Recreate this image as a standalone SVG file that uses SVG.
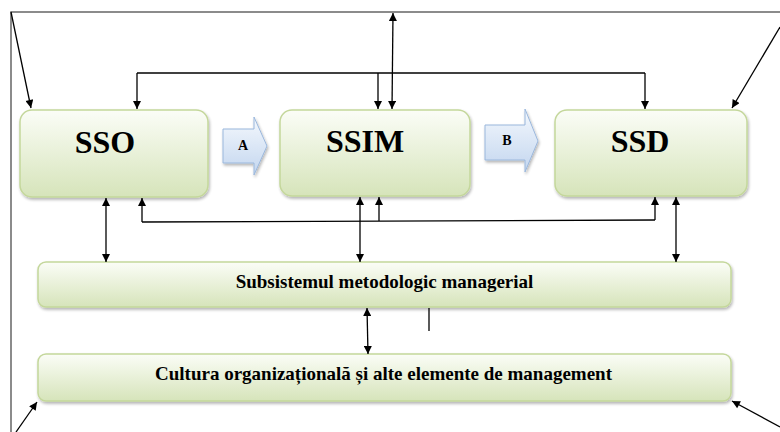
<svg xmlns="http://www.w3.org/2000/svg" width="780" height="432" viewBox="0 0 780 432">
<defs>
<linearGradient id="gGreen" x1="0" y1="0" x2="0" y2="1">
<stop offset="0" stop-color="#fbfdf7"/>
<stop offset="1" stop-color="#d6e4ba"/>
</linearGradient>
<linearGradient id="gBlue" x1="0" y1="0" x2="0" y2="1">
<stop offset="0" stop-color="#f4f8fd"/>
<stop offset="1" stop-color="#c3d6ef"/>
</linearGradient>
<filter id="sh" x="-10%" y="-10%" width="120%" height="130%">
<feGaussianBlur in="SourceAlpha" stdDeviation="1.5"/>
<feOffset dx="1" dy="2" result="b"/>
<feComponentTransfer><feFuncA type="linear" slope="0.3"/></feComponentTransfer>
<feMerge><feMergeNode/><feMergeNode in="SourceGraphic"/></feMerge>
</filter>
<marker id="ah" viewBox="0 0 10 10" refX="10" refY="5" markerWidth="9" markerHeight="8" markerUnits="userSpaceOnUse" orient="auto-start-reverse">
<path d="M0,0 L10,5 L0,10 Z" fill="#000"/>
</marker>
</defs>
<style>
.box{fill:url(#gGreen);stroke:#c4d79b;stroke-width:1.5;filter:url(#sh)}
.barr{fill:url(#gBlue);stroke:#9ab7dc;stroke-width:1;filter:url(#sh)}
text{font-family:'Liberation Serif','DejaVu Serif',serif;font-weight:bold;fill:#000;text-anchor:middle}
.big{font-size:32px}
.mid{font-size:19px}
.sm{font-size:14px}
.ln{stroke:#000;stroke-width:1.3;fill:none}
.gr{stroke:#666;stroke-width:1.5;fill:none}
.a1{marker-end:url(#ah)}
.a2{marker-start:url(#ah);marker-end:url(#ah)}
</style>
<rect width="780" height="432" fill="#fff"/>
<g id="SSO">
<rect class="box" x="20" y="110" width="188" height="87" rx="12"/>
<text class="big" x="105" y="153" font-family="Liberation Serif, serif">SSO</text>
</g>
<g id="SSIM">
<rect class="box" x="280" y="110" width="190" height="86" rx="12"/>
<text class="big" x="365" y="152" font-family="Liberation Serif, serif">SSIM</text>
</g>
<g id="SSD">
<rect class="box" x="555" y="110" width="192" height="86" rx="12"/>
<text class="big" x="640" y="152" font-family="Liberation Serif, serif">SSD</text>
</g>
<g id="A">
<path class="barr" d="M223,129 H254 V117 L267,146 L254,175 V163 H223 Z"/>
<text class="sm" x="243" y="150" font-family="Liberation Serif, serif">A</text>
</g>
<g id="B">
<path class="barr" d="M485,125 H525 V109 L538,141 L525,172 V160 H485 Z"/>
<text class="sm" x="507" y="145" font-family="Liberation Serif, serif">B</text>
</g>
<g id="Subsistemul">
<rect class="box" x="38" y="262" width="693" height="45" rx="8"/>
<text class="mid" x="384.5" y="288" font-family="Liberation Serif, serif">Subsistemul metodologic managerial</text>
</g>
<g id="Cultura">
<rect class="box" x="38" y="354" width="693" height="47" rx="8"/>
<text class="mid" x="383.5" y="380" font-family="Liberation Serif, serif">Cultura organizațională și alte elemente de management</text>
</g>
<g id="connectors">
<path class="gr" d="M11,432 V12 H780"/>
<path class="ln a1" d="M11,12 L31,108"/>
<path class="ln a1" d="M780,27 L732,108"/>
<path class="ln a1" d="M16,432 L37,402"/>
<path class="ln a1" d="M780,427 L732,401"/>
<path class="ln a2" d="M393,13 L392,109"/>
<path class="ln" d="M137,73 H645"/>
<path class="ln a1" d="M137,73 V109"/>
<path class="ln a1" d="M378,73 V109"/>
<path class="ln a1" d="M645,73 V109"/>
<path class="ln a1" d="M142,222 V198"/>
<path class="ln" d="M142,222 L655,220"/>
<path class="ln a1" d="M655,220 V197"/>
<path class="ln a1" d="M379,221 V197"/>
<path class="ln a2" d="M106,198 V262"/>
<path class="ln a2" d="M360,197 V262"/>
<path class="ln a2" d="M676,197 V262"/>
<path class="ln a2" d="M367,308 L368,354"/>
<path class="ln" d="M429,308 V331" stroke-width="1.6"/>
</g>
</svg>
